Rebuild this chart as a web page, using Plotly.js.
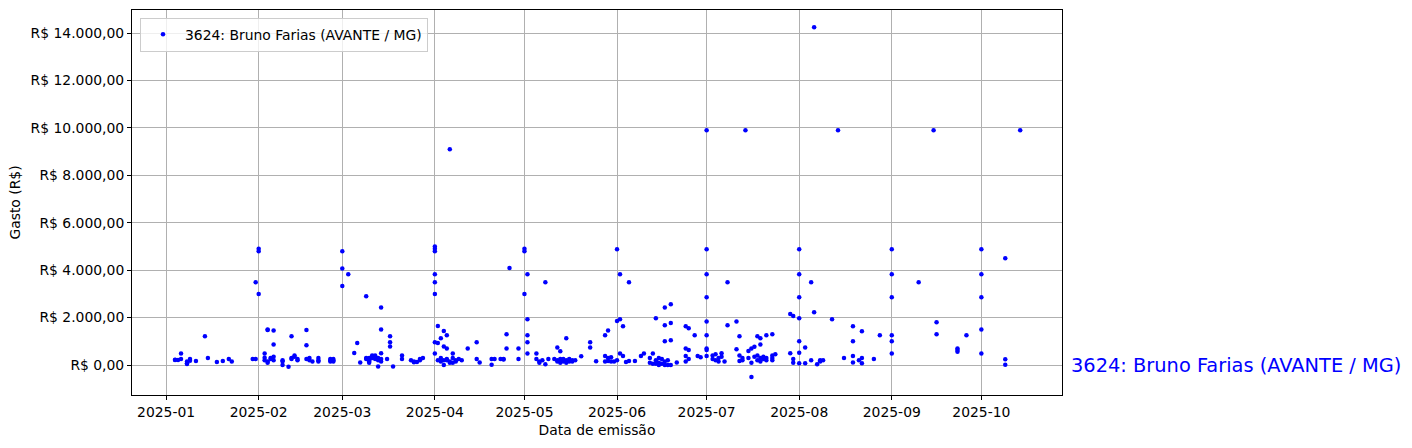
<!DOCTYPE html>
<html>
<head>
<meta charset="utf-8">
<script src="https://cdn.plot.ly/plotly-3.0.1.min.js"></script>
<style>html,body{margin:0;padding:0;background:#fff;}#chart{width:1412px;height:448px;}</style>
</head>
<body>
<div id="chart"></div>
<script>
// Series label
const seriesName = "3624: Bruno Farias (AVANTE / MG)";

// Expense dates (grouped by day) and the values on each day (R$)
const groupDates = [
  "2025-01-04","2025-01-05","2025-01-06","2025-01-08","2025-01-09","2025-01-11",
  "2025-01-14","2025-01-15","2025-01-18","2025-01-20","2025-01-22","2025-01-23",
  "2025-01-30","2025-01-31",
  "2025-02-01","2025-02-03","2025-02-04","2025-02-05","2025-02-06","2025-02-09",
  "2025-02-11","2025-02-12","2025-02-13","2025-02-14","2025-02-17","2025-02-18",
  "2025-02-19","2025-02-21","2025-02-25","2025-02-26",
  "2025-03-01","2025-03-03","2025-03-05","2025-03-06","2025-03-07","2025-03-09",
  "2025-03-10","2025-03-11","2025-03-12","2025-03-13","2025-03-14","2025-03-16",
  "2025-03-17","2025-03-18","2025-03-21","2025-03-24","2025-03-25","2025-03-26",
  "2025-03-27","2025-03-28",
  "2025-04-01","2025-04-02","2025-04-03","2025-04-04","2025-04-05","2025-04-06",
  "2025-04-07","2025-04-08","2025-04-09","2025-04-10","2025-04-12","2025-04-15",
  "2025-04-16","2025-04-20","2025-04-21","2025-04-23","2025-04-24","2025-04-25",
  "2025-04-26","2025-04-29",
  "2025-05-01","2025-05-02","2025-05-05","2025-05-06","2025-05-07","2025-05-08",
  "2025-05-09","2025-05-11","2025-05-12","2025-05-13","2025-05-14","2025-05-15",
  "2025-05-16","2025-05-17","2025-05-18","2025-05-20","2025-05-23","2025-05-25",
  "2025-05-28","2025-05-29","2025-05-30","2025-05-31",
  "2025-06-01","2025-06-02","2025-06-03","2025-06-04","2025-06-05","2025-06-07",
  "2025-06-09","2025-06-10","2025-06-12","2025-06-13","2025-06-14","2025-06-15",
  "2025-06-16","2025-06-17","2025-06-18","2025-06-19","2025-06-21","2025-06-24",
  "2025-06-25","2025-06-27","2025-06-28","2025-06-29",
  "2025-07-01","2025-07-03","2025-07-04","2025-07-05","2025-07-06","2025-07-07",
  "2025-07-08","2025-07-11","2025-07-12","2025-07-13","2025-07-14","2025-07-15",
  "2025-07-16","2025-07-17","2025-07-18","2025-07-19","2025-07-20","2025-07-21",
  "2025-07-23","2025-07-24","2025-07-29","2025-07-30",
  "2025-08-01","2025-08-03","2025-08-05","2025-08-06","2025-08-07","2025-08-08",
  "2025-08-09","2025-08-12","2025-08-14","2025-08-16","2025-08-19","2025-08-21",
  "2025-08-22","2025-08-26","2025-08-28",
  "2025-09-01","2025-09-10","2025-09-15","2025-09-16","2025-09-23","2025-09-26",
  "2025-10-01","2025-10-09","2025-10-14"
];
const groupValues = [
  [210,220],[210],[490,250],[70,40,150],[250,180],[170],
  [1210],[295],[125],[170],[250],[150],
  [250],[250,3490],
  [4800,4900,2990],[490,310,200],[1475,1500,150,100],[300,250],[1460,870,200,350],[0,200,150],
  [-70],[1210,250,300],[350,400],[250,200],[1475,830,250],[200,300],
  [150],[300,200,150],[250,150,200],[200,250,150],
  [4800,4075,3330],[3825],[505],[930],[110],[2895,300,250],
  [300,200,150,100],[400,350,300],[400,350,250],[-60,300,200],[2430,1500,500,250,150],[250],
  [1210,955,785],[-60],[400,250],[200],[150,120],[130],
  [200,250],[300],
  [5000,4900,4800,3825,3490,2990,955,490],[930,1645,200],[1125,300,150],[1435,785,0,200],[1250,700,250,200],[9100,150,100],
  [300,490,100],[200,150],[250],[200],[700],[955,250],
  [110],[250,15],[250],[250],[250,230],[1295,700],
  [4090],[700,250],
  [4800,4900,2990],[3825,1925,1250,955,490],[490,250],[150,100],[200],[3490,30],
  [250],[250],[740,200,150],[580,250,100],[200,150,250],[1125,200,100],
  [250,150],[200,150],[200],[365],[955,740],[155],
  [1250,380,150],[1460,300,170],[330,150],[150],
  [4880,1855,200],[3825,1925,490],[1630,380],[130],[3490,170],[170],
  [380],[490],[300,100],[490,50],[1970,200,50],[300,100,0],
  [250,50],[1675,1000,2430,150,0],[200,0],[1770,1040,2560,0],[110],[1630,700,380,150],
  [1545,630,250],[1250],[380],[330],
  [9900,4880,3825,2855,1840,1250,700,630,380],[400,250],[450,200],[300,150],[500,350],[150],
  [3490,1675],[1840,660],[1210,400,170],[300,200],[9900],[590,300],
  [-505,700,100],[770,350],[1210,200,400],[1125,870,300,150],[250,350],[1250,300,200],
  [1295,400,300,200],[450],[2150,500],[2065,250,100],
  [4880,3825,2855,1970,1000,520,70],[740,70],[3490,200],[14240,2220],[30],[150,200],
  [200],[1925],[9900],[300],[1630,1000,380,110],[200],
  [1420,300,70],[250],[1250],
  [4880,3825,2855,1250,1000,490],[3490],[9900],[1800,1295],[700,630,560],[1250],
  [4880,3825,2855,1500,490],[4500,240,15],[9900]
];

// Axis ticks
const yTickVals = [0,2000,4000,6000,8000,10000,12000,14000];
const yTickText = ["R$ 0,00","R$ 2.000,00","R$ 4.000,00","R$ 6.000,00","R$ 8.000,00","R$ 10.000,00","R$ 12.000,00","R$ 14.000,00"];
const xTickVals = ["2025-01-01","2025-02-01","2025-03-01","2025-04-01","2025-05-01","2025-06-01","2025-07-01","2025-08-01","2025-09-01","2025-10-01"];
const xTickText = ["2025-01","2025-02","2025-03","2025-04","2025-05","2025-06","2025-07","2025-08","2025-09","2025-10"];

const xs = [], ys = [];
groupDates.forEach((d, i) => groupValues[i].forEach(v => { xs.push(d); ys.push(v); }));

const font = {family: "DejaVu Sans, sans-serif", size: 13.9, color: "#000"};

const trace = {
  type: "scatter", mode: "markers", x: xs, y: ys, name: seriesName,
  marker: {color: "blue", size: 4.5, line: {width: 0}},
  showlegend: true
};

const layout = {
  width: 1412, height: 448,
  margin: {l: 132, r: 350, t: 10, b: 53},
  paper_bgcolor: "#fff", plot_bgcolor: "#fff",
  font: font,
  showlegend: true,
  legend: {
    x: 0.0086, y: 0.98, xanchor: "left", yanchor: "top",
    bgcolor: "rgba(255,255,255,0.8)", bordercolor: "#cccccc", borderwidth: 1,
    font: font, itemsizing: "trace", itemwidth: 34
  },
  xaxis: {
    type: "date", range: ["2024-12-20 14:00", "2025-10-28"],
    tickvals: xTickVals, ticktext: xTickText,
    showgrid: true, gridcolor: "#b0b0b0", gridwidth: 1,
    showline: true, linecolor: "#000", linewidth: 1, mirror: true,
    ticks: "outside", ticklen: 4, tickcolor: "#000",
    zeroline: false, tickfont: font,
    title: {text: "Data de emissão", font: font, standoff: 6}
  },
  yaxis: {
    range: [-1265, 14972],
    tickvals: yTickVals, ticktext: yTickText,
    showgrid: true, gridcolor: "#b0b0b0", gridwidth: 1,
    showline: true, linecolor: "#000", linewidth: 1, mirror: true,
    ticks: "outside", ticklen: 4, tickcolor: "#000",
    zeroline: false, tickfont: font,
    title: {text: "Gasto (R$)", font: font, standoff: 6}
  },
  annotations: [{
    xref: "paper", yref: "y", x: 1.0075, y: 0, xanchor: "left", yanchor: "middle",
    text: seriesName, showarrow: false,
    font: {family: "DejaVu Sans, sans-serif", size: 19.4, color: "blue"}
  }]
};

Plotly.newPlot("chart", [trace], layout, {displayModeBar: false, staticPlot: true});
</script>
</body>
</html>
